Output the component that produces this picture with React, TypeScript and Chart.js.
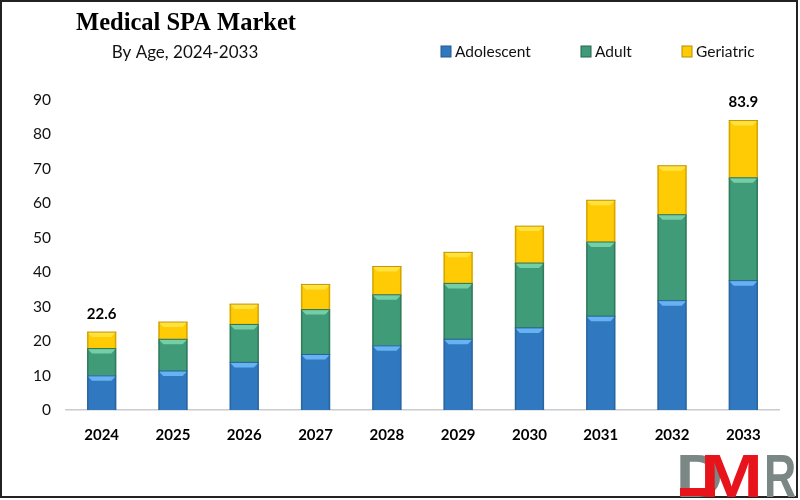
import { useEffect, useRef } from "react"
import { Chart, registerables } from "chart.js"

Chart.register(...registerables)

const years = ["2024", "2025", "2026", "2027", "2028", "2029", "2030", "2031", "2032", "2033"]
const adolescent = [9.9, 11.3, 13.8, 16.1, 18.6, 20.5, 23.8, 27.2, 31.7, 37.5]
const adult = [7.9, 9.2, 11, 13, 14.8, 16.2, 18.8, 21.5, 24.9, 29.8]
const geriatric = [4.8, 5, 5.9, 7.3, 8.2, 9, 10.7, 12.1, 14.2, 16.6]
const totalLabels = ["22.6", "", "", "", "", "", "", "", "", "83.9"]
const yTicks = [0, 10, 20, 30, 40, 50, 60, 70, 80, 90]

const seriesNames = ["Adolescent", "Adult", "Geriatric"]
const seriesColors = ["#3079c0", "#3f9b78", "#ffcb05"]
const topColors = ["#66b2f2", "#74cfa6", "#ffe23e"]
const edgeColors = ["#24598c", "#26654a", "#b98c00"]
const legendX = [441, 581, 682]

const sans = "Lato, 'Open Sans', sans-serif"

// bevel on each bar, like the office "3d" shape style
const bevelPlugin = {
  id: "bevel",
  afterDatasetsDraw(chart: any) {
    const { ctx } = chart
    chart.data.datasets.forEach((_: any, i: number) => {
      chart.getDatasetMeta(i).data.forEach((bar: any) => {
        const l = bar.x - bar.width / 2
        const r = bar.x + bar.width / 2
        const t = bar.y
        const b = bar.base
        const d = 5
        ctx.save()
        ctx.fillStyle = topColors[i]
        ctx.beginPath()
        ctx.moveTo(l, t)
        ctx.lineTo(r, t)
        ctx.lineTo(r - d, t + d)
        ctx.lineTo(l + d, t + d)
        ctx.closePath()
        ctx.fill()
        ctx.fillStyle = edgeColors[i]
        ctx.globalAlpha = 0.6
        ctx.fillRect(l, t, 1.5, b - t)
        ctx.fillRect(r - 1.5, t, 1.5, b - t)
        ctx.globalAlpha = 0.9
        ctx.fillRect(l, t - 0.5, r - l, 1)
        ctx.restore()
      })
    })
  },
}

const decorPlugin = {
  id: "decor",
  beforeDraw(chart: any) {
    const { ctx, width, height } = chart
    ctx.save()
    ctx.fillStyle = "#ffffff"
    ctx.fillRect(0, 0, width, height)
    ctx.restore()
  },
  afterDraw(chart: any) {
    const { ctx, width, height } = chart
    ctx.save()

    // frame
    ctx.strokeStyle = "#222222"
    ctx.lineWidth = 2
    ctx.strokeRect(1, 1, width - 4, height - 4)

    // header
    ctx.fillStyle = "#000000"
    ctx.textBaseline = "middle"
    ctx.textAlign = "center"
    ctx.font = "bold 24.5px 'Liberation Serif', serif"
    ctx.fillText("Medical SPA Market", 186, 24)
    ctx.font = `17px ${sans}`
    ctx.fillStyle = "#111111"
    ctx.fillText("By Age, 2024-2033", 185, 53)

    // legend
    ctx.textAlign = "left"
    ctx.font = `15.5px ${sans}`
    seriesNames.forEach((name, i) => {
      ctx.fillStyle = seriesColors[i]
      ctx.fillRect(legendX[i], 46, 10, 11)
      ctx.strokeStyle = edgeColors[i]
      ctx.lineWidth = 1
      ctx.strokeRect(legendX[i], 46, 10, 11)
      ctx.fillStyle = "#111111"
      ctx.fillText(name, legendX[i] + 14, 52)
    })

    // totals over first and last bar
    const topMeta = chart.getDatasetMeta(2)
    ctx.textAlign = "center"
    ctx.font = `bold 15px ${sans}`
    ctx.fillStyle = "#000000"
    totalLabels.forEach((label, i) => {
      if (!label) return
      const bar = topMeta.data[i]
      ctx.fillText(label, bar.x, bar.y - 18)
    })

    // logo, letters squeezed or stretched to the reference's widths
    ctx.textBaseline = "alphabetic"
    ctx.textAlign = "left"
    ctx.font = "bold 62px 'Liberation Sans', sans-serif"
    const letter = (text: string, x: number, scaleX: number, color: string) => {
      ctx.save()
      ctx.translate(x, 497)
      ctx.scale(scaleX, 1)
      ctx.fillStyle = color
      ctx.fillText(text, 0, 0)
      ctx.restore()
    }
    letter("D", 676, 1.05, "#7b8785")
    letter("R", 764, 0.72, "#7b8785")
    ctx.fillStyle = "#e8141c"
    ctx.fillRect(680, 488, 35, 8)
    letter("M", 700, 1.22, "#e8141c")
    ctx.restore()
  },
}

export default function App() {
  const canvasRef = useRef<HTMLCanvasElement>(null)

  useEffect(() => {
    if (!canvasRef.current) return
    document.body.style.margin = "0"

    const chart = new Chart(canvasRef.current, {
      type: "bar",
      data: {
        labels: years,
        datasets: [adolescent, adult, geriatric].map((values, i) => ({
          label: seriesNames[i],
          data: values,
          backgroundColor: seriesColors[i],
          categoryPercentage: 1,
          barPercentage: 0.41,
        })),
      },
      options: {
        responsive: false,
        animation: false,
        layout: { padding: { left: 0, right: 21, top: 99.5, bottom: 0 } },
        plugins: { legend: { display: false }, tooltip: { enabled: false } },
        scales: {
          x: {
            stacked: true,
            grid: { display: false },
            border: { color: "#c8ccd0", width: 1.5 },
            ticks: {
              color: "#000000",
              padding: 8,
              maxRotation: 0,
              font: { family: sans, size: 15, weight: "bold" },
            },
            afterFit(scale: any) {
              scale.height = 90
            },
          },
          y: {
            stacked: true,
            min: 0,
            max: 90,
            afterBuildTicks(scale: any) {
              scale.ticks = yTicks.map((value) => ({ value }))
            },
            grid: { display: false },
            border: { display: false },
            ticks: {
              color: "#111111",
              padding: 7,
              font: { family: sans, size: 15.5 },
            },
            afterFit(scale: any) {
              scale.width = 66
            },
          },
        },
      },
      plugins: [decorPlugin, bevelPlugin],
    } as any)

    return () => chart.destroy()
  }, [])

  return <canvas ref={canvasRef} width={800} height={500} style={{ display: "block" }} />
}
